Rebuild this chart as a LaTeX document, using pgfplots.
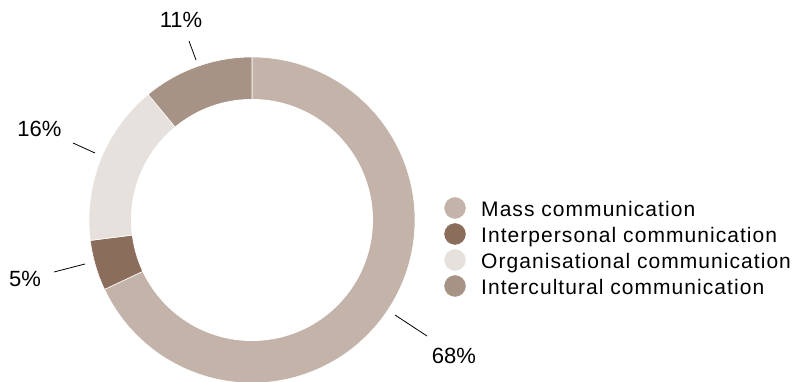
\documentclass[border=0pt]{standalone}
\usepackage{fontspec}
\setmainfont{Liberation Sans}
\usepackage{pgfplots}
\pgfplotsset{compat=1.18}
\definecolor{cmass}{HTML}{C3B3A8}
\definecolor{cinter}{HTML}{8B6D5B}
\definecolor{corg}{HTML}{E6E1DD}
\definecolor{ccult}{HTML}{A79386}
% centre (252,162), outer radius 163, inner radius 121 (picture units = px)
% \slice{cumulative share before}{share}{colour}
\newcommand{\slice}[3]{%
  \addplot[fill=#3, draw=white, line width=0.6pt, domain={90-3.6*(#1+#2)}:{90-3.6*#1}, samples=120]
    ({252+163*cos(x)},{162+163*sin(x)}) -- (axis cs:252,162) -- cycle;}
\begin{document}
\begin{tikzpicture}
\begin{axis}[scale only axis, width=794pt, height=382pt,
  xmin=0, xmax=794, ymin=0, ymax=382, hide axis, clip=false]
\coordinate (bl) at (axis cs:0,0);
\coordinate (tr) at (axis cs:794,382);
% shares: Mass 68, Interpersonal 5, Organisational 16, Intercultural 11
\slice{0}{68}{cmass}
\slice{68}{5}{cinter}
\slice{73}{16}{corg}
\slice{89}{11}{ccult}
\addplot[fill=white, draw=none, domain=0:360, samples=240]
  ({252+121*cos(x)},{162+121*sin(x)}) -- cycle;
% leader lines
\addplot[black, line width=0.8pt] coordinates {(189,341) (196,322)};
\addplot[black, line width=0.8pt] coordinates {(73,239) (95,229)};
\addplot[black, line width=0.8pt] coordinates {(54,110) (85,118)};
\addplot[black, line width=0.8pt] coordinates {(395,67) (427,46)};
% labels
\begin{scope}[every node/.style={font=\fontsize{22}{26}\selectfont, inner sep=0pt}]
\node at (axis cs:181,362.5) {11\%};
\node at (axis cs:39.5,253) {16\%};
\node at (axis cs:25,103) {5\%};
\node at (axis cs:454,26.5) {68\%};
\end{scope}
% legend
\addplot[only marks, mark=*, mark size=10.5pt, color=cmass] coordinates {(455,174)};
\addplot[only marks, mark=*, mark size=10.5pt, color=cinter] coordinates {(455,148)};
\addplot[only marks, mark=*, mark size=10.5pt, color=corg] coordinates {(455,122)};
\addplot[only marks, mark=*, mark size=10.5pt, color=ccult] coordinates {(455,96)};
\begin{scope}[every node/.style={font=\fontsize{21}{25}\selectfont\addfontfeature{LetterSpace=5}, inner sep=0pt, anchor=base west}]
\node at (axis cs:481,165) {Mass communication};
\node at (axis cs:481,139) {Interpersonal communication};
\node at (axis cs:481,113) {Organisational communication};
\node at (axis cs:481,87) {Intercultural communication};
\end{scope}
\end{axis}
\pgfresetboundingbox
\path[use as bounding box] (bl) rectangle (tr);
\end{tikzpicture}
\end{document}
